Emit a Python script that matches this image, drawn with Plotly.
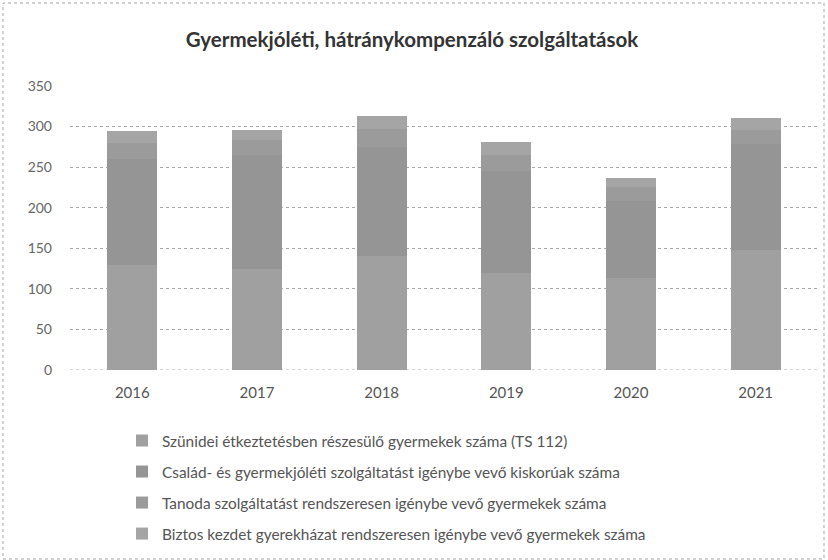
import plotly.graph_objects as go

years = ["2016", "2017", "2018", "2019", "2020", "2021"]
series_names = [
    "Szünidei étkeztetésben részesülő gyermekek száma (TS 112)",
    "Család- és gyermekjóléti szolgáltatást igénybe vevő kiskorúak száma",
    "Tanoda szolgáltatást rendszeresen igénybe vevő gyermekek száma",
    "Biztos kezdet gyerekházat rendszeresen igénybe vevő gyermekek száma",
]
szunidei = [130, 125, 140, 120, 113, 148]
csalad = [130, 140, 135, 125, 95, 130]
tanoda = [20, 18, 22, 20, 17, 18]
biztos = [15, 13, 16, 16, 12, 15]
y_ticks = [0, 50, 100, 150, 200, 250, 300, 350]

colors = ["#a0a0a0", "#959595", "#9b9b9b", "#a5a5a5"]
values = [szunidei, csalad, tanoda, biztos]

fig = go.Figure()
for i, (name, vals) in enumerate(zip(series_names, values)):
    fig.add_trace(go.Bar(
        x=years, y=vals, name=name, legendgroup=f"g{i}",
        marker=dict(color=colors[i], line=dict(width=0)),
    ))

L, R, T, B = 70, 10, 86, 190
W, H = 828, 560
pw, ph = W - L - R, H - T - B

def px_x(p):
    return (p - L) / pw

def px_y(p):
    return (H - B - p) / ph

fig.update_layout(
    width=W, height=H,
    barmode="stack", bargap=0.6,
    margin=dict(l=L, r=R, t=T, b=B, autoexpand=False),
    paper_bgcolor="white", plot_bgcolor="white",
    font=dict(family="Lato, Open Sans, sans-serif", color="#555555", size=13),
    title=dict(text="Gyermekjóléti, hátránykompenzáló szolgáltatások",
               x=412 / W, xref="container", xanchor="center", y=1 - 40 / H, yanchor="middle",
               font=dict(size=20.5, color="#333333", family="Lato, sans-serif", weight="bold")),
    xaxis=dict(showgrid=False, showline=False, ticks="", ticklabelstandoff=12,
               tickfont=dict(size=15, color="#555555")),
    yaxis=dict(range=[0, 350], tickvals=y_ticks, showgrid=True, gridcolor="#a8a8a8",
               griddash="dot", gridwidth=1, zeroline=False, showline=False,
               tickfont=dict(size=14, color="#666666"), ticklabelstandoff=17),
    legend=dict(x=122 / W, xref="container", y=1 - 424 / H, yref="container",
                xanchor="left", yanchor="top",
                traceorder="grouped", tracegroupgap=8,
                font=dict(size=15.4, color="#555555"), itemwidth=30),
    showlegend=True,
)
fig.add_shape(type="line", xref="paper", yref="y", x0=0, x1=1, y0=0, y1=0,
              line=dict(color="#a8a8a8", width=1, dash="dot"), layer="below")
fig.add_shape(type="rect", xref="paper", yref="paper",
              x0=px_x(3), x1=px_x(824), y0=px_y(559), y1=px_y(3),
              line=dict(color="#a5a5a5", width=1, dash="dot"))

fig.write_html("out.html", config={"displayModeBar": False},
               post_script="document.body.style.margin='0';")
